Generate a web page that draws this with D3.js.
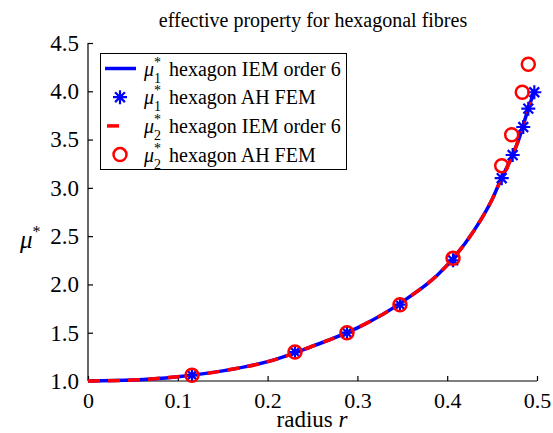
<!DOCTYPE html>
<html><head><meta charset="utf-8">
<script src="https://cdn.jsdelivr.net/npm/d3@7"></script>
<style>body{margin:0;background:#fff}svg{display:block}text{font-family:"Liberation Serif","Times New Roman",serif}</style>
</head><body><div id="c"></div>
<script>
const xTicks=[0,0.1,0.2,0.3,0.4,0.5];
const yTicks=[1.0,1.5,2.0,2.5,3.0,3.5,4.0,4.5];
const curveR=[0,0.05,0.1,0.15,0.2,0.25,0.3,0.35,0.4,0.43,0.45,0.46,0.47,0.48,0.49,0.497];
const mu1IEM=[1.0,1.01,1.045,1.105,1.2,1.36,1.55,1.82,2.2,2.56,2.88,3.09,3.28,3.51,3.81,4.0];
const curveR2=[0,0.05,0.1,0.15,0.2,0.25,0.3,0.35,0.4,0.43,0.45,0.46,0.47,0.48,0.49,0.494];
const mu2IEM=[1.0,1.01,1.045,1.105,1.2,1.36,1.55,1.82,2.2,2.56,2.88,3.09,3.28,3.51,3.81,3.94];
const femR1=[0.1158,0.2305,0.2884,0.3474,0.4065,0.4607,0.4729,0.4847,0.4903,0.497];
const mu1FEM=[1.06,1.30,1.50,1.79,2.25,3.10,3.34,3.63,3.82,3.99];
const femR2=[0.1158,0.2305,0.2884,0.3474,0.4065,0.4607,0.4718,0.4836,0.4903];
const mu2FEM=[1.06,1.30,1.50,1.79,2.27,3.23,3.55,3.99,4.28];

const W=553,H=433;
const svg=d3.select("#c").append("svg").attr("width",W).attr("height",H).attr("font-family","Liberation Serif");
const x=d3.scaleLinear().domain([0,0.5]).range([88,537]);
const y=d3.scaleLinear().domain([1,4.5]).range([381,43]);

// axes
const xa=svg.append("g").attr("transform","translate(0,381)")
 .call(d3.axisBottom(x).tickValues(xTicks).tickSize(-5).tickPadding(11).tickFormat(d=>d===0?"0":d3.format(".1f")(d)));
const ya=svg.append("g").attr("transform","translate(88,0)")
 .call(d3.axisLeft(y).tickValues(yTicks).tickSize(-5).tickPadding(9).tickFormat(d3.format(".1f")));
[xa,ya].forEach(g=>{g.attr("font-family",null);g.selectAll("path").attr("stroke","#000").attr("stroke-width",1.2);
 g.selectAll("line").attr("stroke","#000").attr("stroke-width",1.2);
 g.selectAll("text").attr("font-size",23).attr("fill","#000");});
xa.selectAll("text").attr("font-size",22);
ya.select("path").attr("d","M-0,43H0V381H-0");
xa.select("path").attr("d","M88,0V0H537V0");

// lines
const line=d3.line().x(d=>x(d[0])).y(d=>y(d[1])).curve(d3.curveMonotoneX);
svg.append("path").datum(curveR.map((r,i)=>[r,mu1IEM[i]])).attr("d",line)
 .attr("fill","none").attr("stroke","#0000ff").attr("stroke-width",3.5);
svg.append("path").datum(curveR2.map((r,i)=>[r,mu2IEM[i]])).attr("d",line)
 .attr("fill","none").attr("stroke","#ff0000").attr("stroke-width",3.5).attr("stroke-dasharray","12,8");

function star(g,cx,cy,s){
 const a=s, b=s*0.7;
 g.append("path").attr("d",`M${cx-a},${cy}H${cx+a}M${cx},${cy-a}V${cy+a}M${cx-b},${cy-b}L${cx+b},${cy+b}M${cx-b},${cy+b}L${cx+b},${cy-b}`)
  .attr("stroke","#0000ff").attr("stroke-width",2.2).attr("fill","none");
}
const sg=svg.append("g");
femR1.forEach((r,i)=>star(sg,x(r),y(mu1FEM[i]),7));
svg.append("g").selectAll("circle").data(femR2.map((r,i)=>[r,mu2FEM[i]])).join("circle")
 .attr("cx",d=>x(d[0])).attr("cy",d=>y(d[1])).attr("r",6.5)
 .attr("fill","none").attr("stroke","#ff0000").attr("stroke-width",2.5);

// title & labels
svg.append("text").attr("x",313).attr("y",27).attr("text-anchor","middle").attr("font-size",20).text("effective property for hexagonal fibres");
const xl=svg.append("text").attr("x",312).attr("y",427).attr("text-anchor","middle").attr("font-size",23);
xl.append("tspan").text("radius ");xl.append("tspan").attr("font-style","italic").text("r");
const yl=svg.append("text").attr("x",20).attr("y",248).attr("font-size",25);
yl.append("tspan").attr("font-style","italic").text("μ");
yl.append("tspan").attr("dy",-11).attr("font-size",16).text("*");

// legend
const lg=svg.append("g");
lg.append("rect").attr("x",100.5).attr("y",53.5).attr("width",246).attr("height",116).attr("fill","#fff").attr("stroke","#000").attr("stroke-width",1);
const items=[{t:"hexagon IEM order 6",s:"1",k:"line",c:"#0000ff"},{t:"hexagon AH FEM",s:"1",k:"star",c:"#0000ff"},
 {t:"hexagon IEM order 6",s:"2",k:"dash",c:"#ff0000"},{t:"hexagon AH FEM",s:"2",k:"circle",c:"#ff0000"}];
items.forEach((it,i)=>{
 const cy=68.5+i*28.7;
 if(it.k==="line") lg.append("line").attr("x1",105).attr("x2",136).attr("y1",cy).attr("y2",cy).attr("stroke",it.c).attr("stroke-width",3.5);
 if(it.k==="dash") lg.append("line").attr("x1",105).attr("x2",136).attr("y1",cy).attr("y2",cy).attr("stroke",it.c).attr("stroke-width",3.5).attr("stroke-dasharray","12,18").attr("stroke-dashoffset",-2);
 if(it.k==="star") star(lg,120,cy,7);
 if(it.k==="circle") lg.append("circle").attr("cx",120).attr("cy",cy).attr("r",6.5).attr("fill","none").attr("stroke",it.c).attr("stroke-width",2.5);
 const t=lg.append("text").attr("x",144).attr("y",cy+7).attr("font-size",20);
 t.append("tspan").attr("font-style","italic").text("μ");
 t.append("tspan").attr("dy",-9).attr("dx",0).attr("font-size",14).text("*");
 t.append("tspan").attr("dy",16).attr("dx",-7).attr("font-size",14).text(it.s);
 t.append("tspan").attr("dy",-7).attr("dx",3).text(" "+it.t);
});
</script></body></html>
